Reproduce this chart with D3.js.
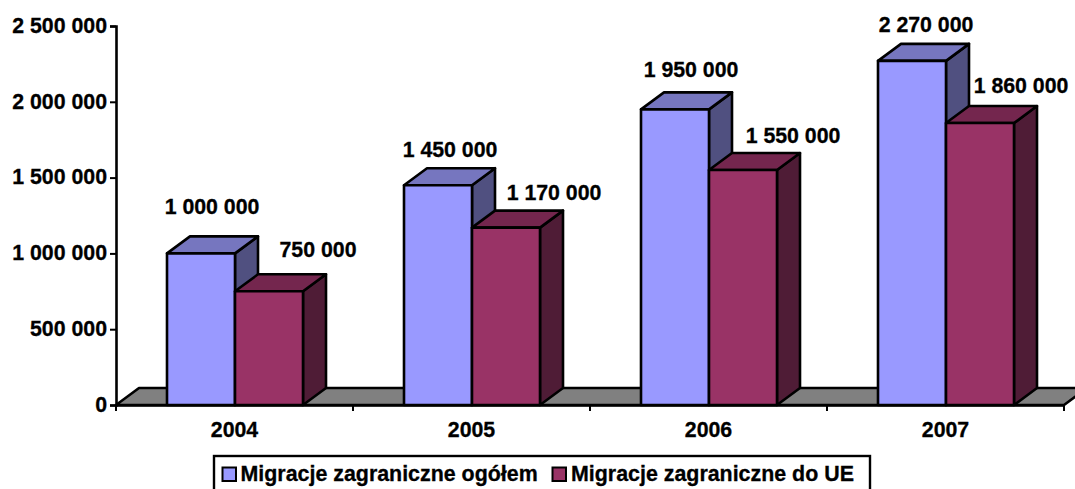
<!DOCTYPE html>
<html><head><meta charset="utf-8"><style>html,body{margin:0;padding:0;background:#fff;overflow:hidden}svg{display:block}text{font-family:"Liberation Sans",Arial,sans-serif;font-weight:bold;fill:#000;stroke:#000;stroke-width:.3px}</style>
<script src="https://d3js.org/d3.v7.min.js"></script></head><body><script>
const years=["2004","2005","2006","2007"];
const seriesNames=["Migracje zagraniczne ogółem","Migracje zagraniczne do UE"];
const total=[1000000,1450000,1950000,2270000];
const eu=[750000,1170000,1550000,1860000];
const yTicks=[0,500000,1000000,1500000,2000000,2500000];
const front=["#9999ff","#993366"],topC=["#7676bf","#74264e"],side=["#505080","#4f1c36"];
const W=1075,H=489,dx=23,dy=17,fs=21.3;
const svg=d3.select("body").append("svg").attr("width",W).attr("height",H);
const x=d3.scaleBand().domain(years).range([116,1064]);
const y=d3.scaleLinear().domain([0,2500000]).range([405,26]);
const fmt=v=>d3.format(",")(v).replace(/,/g," ");
const y0=y(0),sw=2.6;
const poly=(pts,f)=>svg.append("polygon").attr("points",pts.map(p=>p.join(",")).join(" ")).attr("fill",f).attr("stroke","#000").attr("stroke-width",sw).attr("stroke-linejoin","round");
poly([[116,y0],[116+dx,y0-dy],[1064+dx,y0-dy],[1064,y0]],"#808080");
const ax=svg.append("g").attr("transform","translate(116,0)").call(d3.axisLeft(y).tickValues(yTicks).tickFormat(fmt).tickSize(6).tickPadding(3));
ax.selectAll("text").style("font-size",fs+"px").attr("dy","0.3em");
svg.append("g").attr("transform",`translate(0,${y0})`).call(d3.axisBottom(x).tickValues([]).tickSize(0));
const tk=[116,...years.map(d=>x(d)+x.bandwidth())];
svg.selectAll(".tk").data(tk).join("line").attr("x1",d=>d).attr("x2",d=>d).attr("y1",y0).attr("y2",y0+6).attr("stroke","#000").attr("stroke-width",2);
svg.selectAll("path.domain").attr("stroke","#000").attr("stroke-width",2.6);
ax.selectAll("line").attr("stroke","#000").attr("stroke-width",2);
svg.selectAll(".yl").data(years).join("text").attr("x",d=>x(d)+x.bandwidth()/2).attr("y",y0+32).attr("text-anchor","middle").style("font-size",fs+"px").text(d=>d);
const bw=68;
const pts=[0,1].flatMap(k=>years.map((yr,i)=>({yr,i,k,v:(k?eu:total)[i]})));
pts.forEach(({yr,k,v})=>{
  const x0=x(yr)+51+k*bw,x1=x0+bw,t=y(v);
  poly([[x1,t],[x1+dx,t-dy],[x1+dx,y0-dy],[x1,y0]],side[k]);
  poly([[x0,t],[x0+dx,t-dy],[x1+dx,t-dy],[x1,t]],topC[k]);
  poly([[x0,t],[x1,t],[x1,y0],[x0,y0]],front[k]);
});
// hand-placed data label offsets, as in the reference
const offX=[[11,12,16,14],[49,48,50,41]],offY=[[-39,-28,-32,-29],[-34,-28,-27,-30]];
pts.forEach(({yr,i,k,v})=>{
  svg.append("text").attr("x",x(yr)+51+k*bw+bw/2+offX[k][i]).attr("y",y(v)+offY[k][i]).attr("text-anchor","middle").style("font-size",fs+"px").text(fmt(v));
});
svg.append("rect").attr("x",214).attr("y",456).attr("width",656).attr("height",40).attr("fill","#fff").attr("stroke","#000").attr("stroke-width",2.4);
const lx=[222.5,552.5],tx=[240.5,571];
seriesNames.forEach((n,k)=>{
  svg.append("rect").attr("x",lx[k]).attr("y",467.5).attr("width",13.5).attr("height",13.5).attr("fill",front[k]).attr("stroke","#000").attr("stroke-width",2);
  svg.append("text").attr("x",tx[k]).attr("y",481).style("font-size","21.4px").text(n);
});
</script></body></html>
